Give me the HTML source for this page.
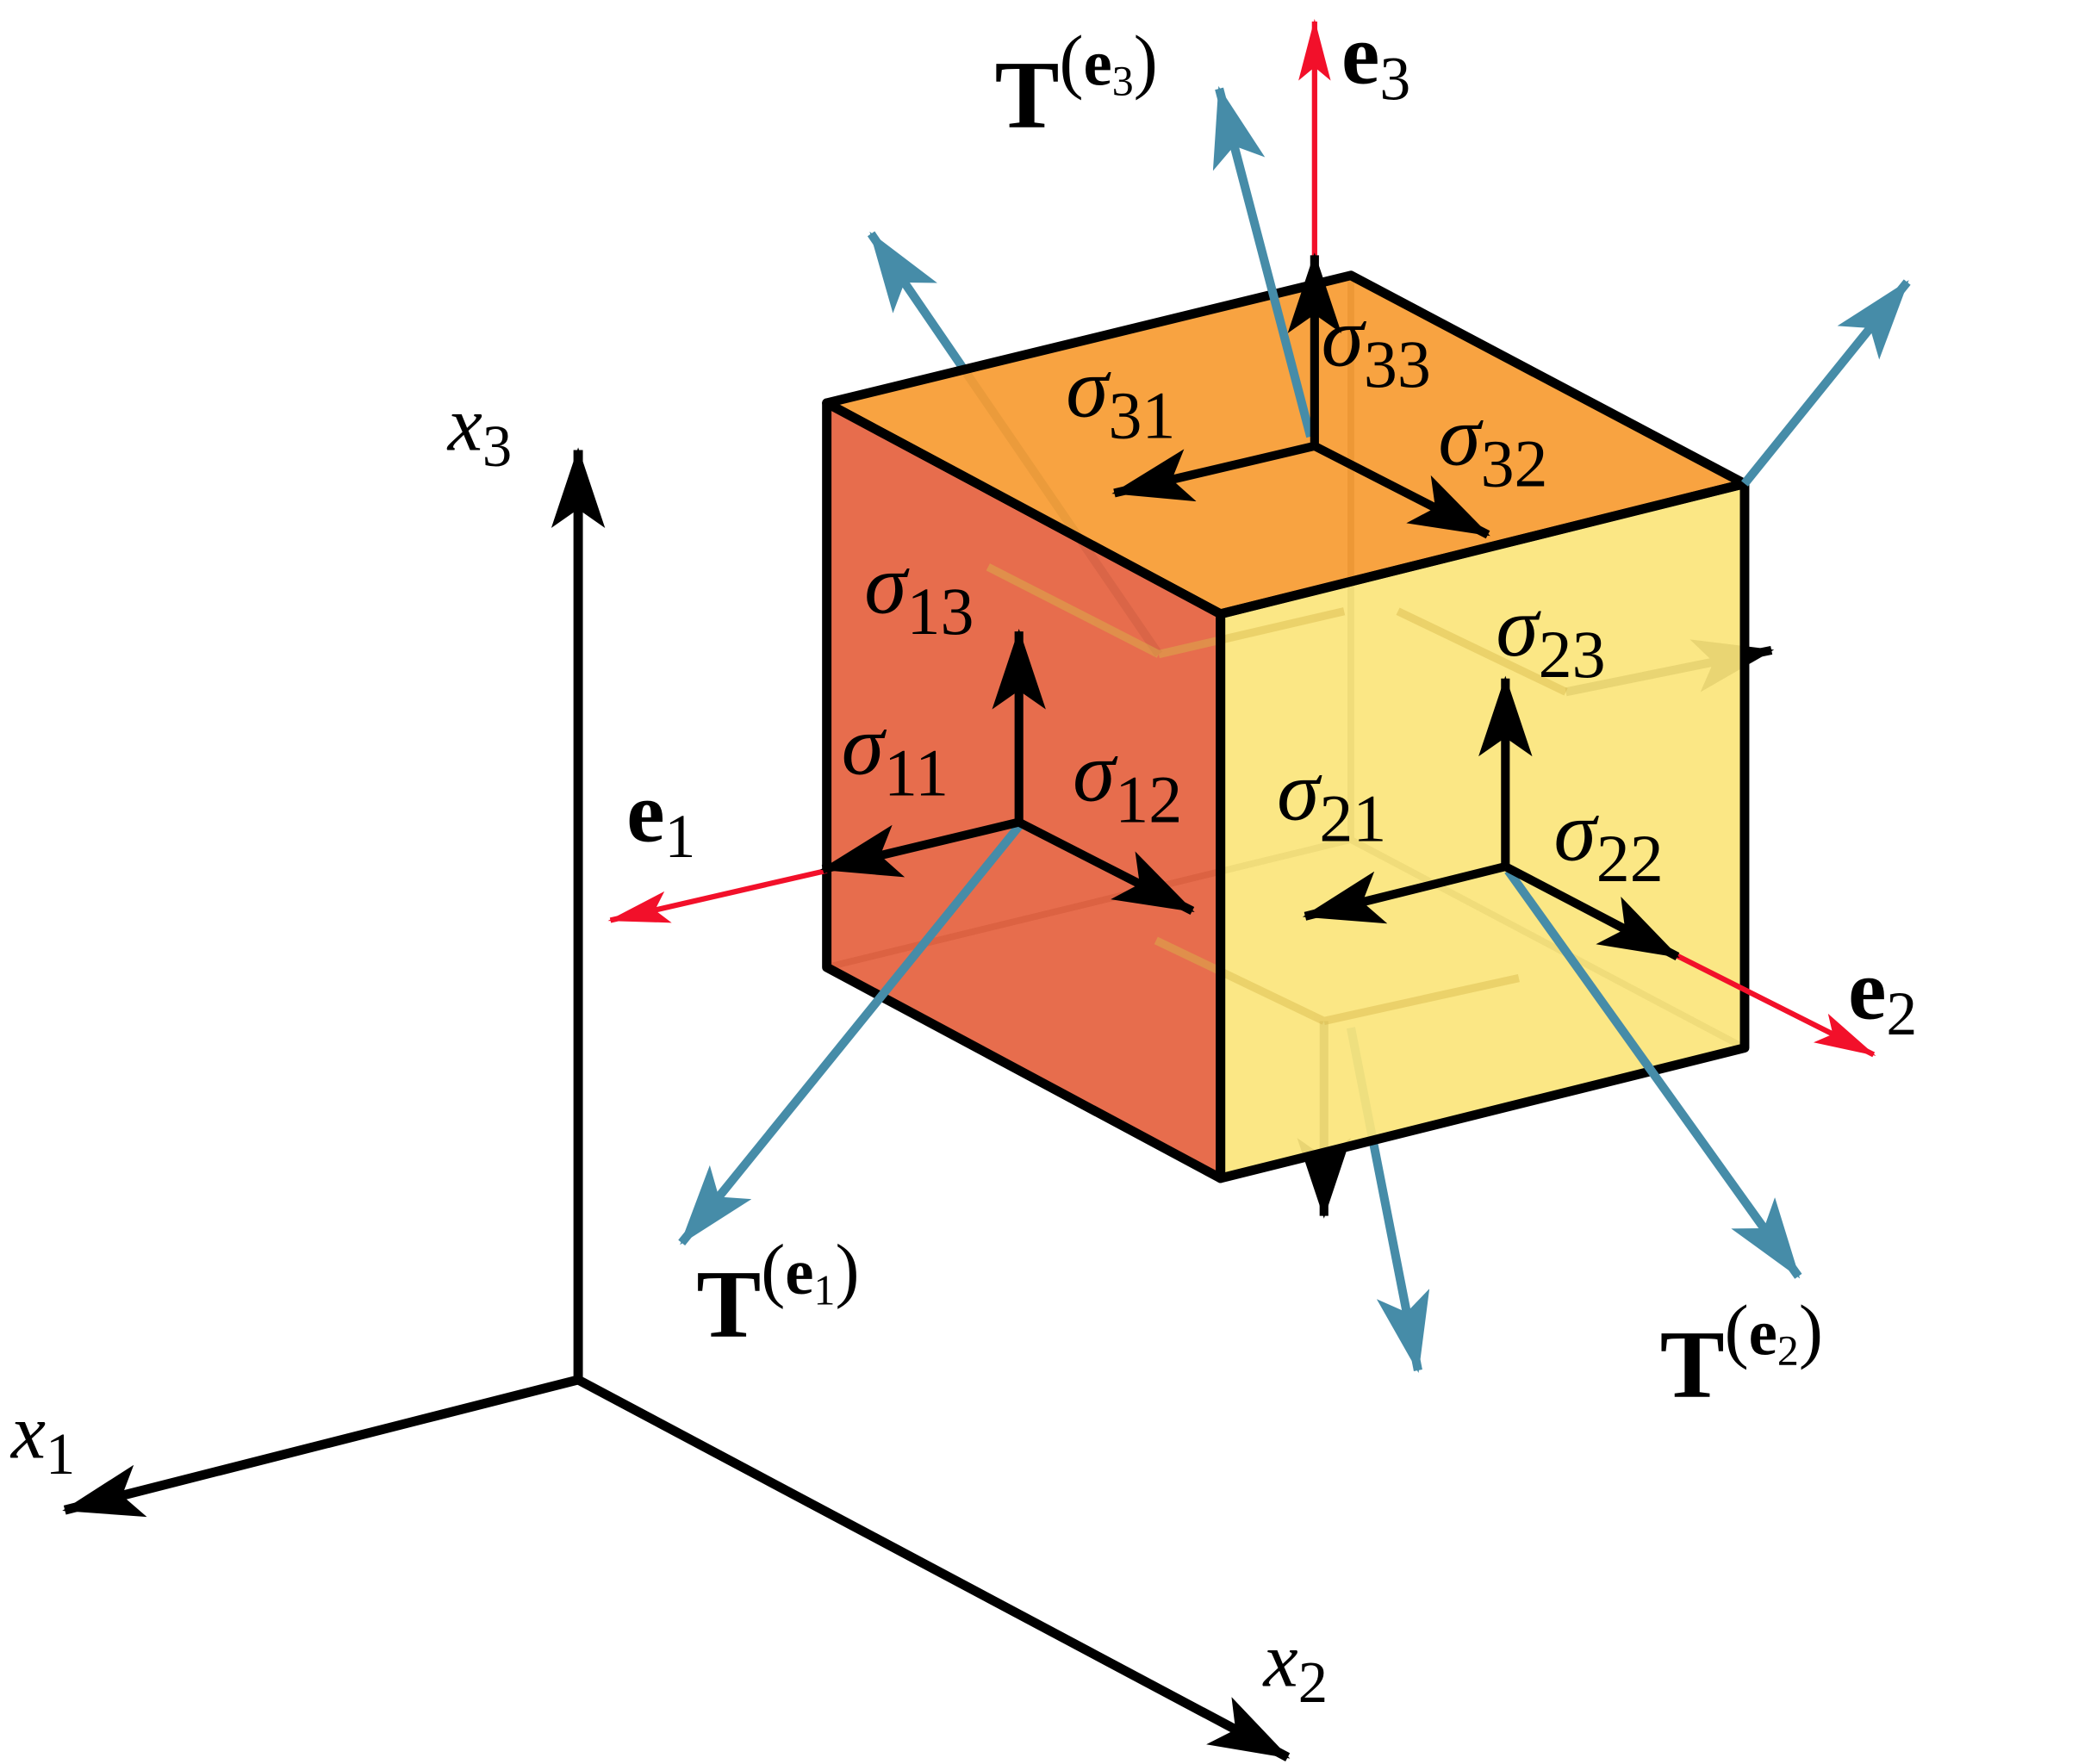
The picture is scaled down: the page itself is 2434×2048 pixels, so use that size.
<!DOCTYPE html>
<html><head><meta charset="utf-8">
<style>
html,body{margin:0;padding:0;background:#fff;}
svg{display:block;}
text{font-family:"Liberation Serif",serif;}
.it{font-style:italic;}
.b{font-weight:bold;}
</style></head>
<body>
<svg width="2434" height="2048" viewBox="0 0 1560 1313" xmlns="http://www.w3.org/2000/svg">
<defs>
<marker id="ak" markerUnits="userSpaceOnUse" markerWidth="70" markerHeight="50" refX="58" refY="20" orient="auto"><path d="M0,0 L60,20 L0,40 L14,20 Z" fill="#000"/></marker>
<marker id="ab" markerUnits="userSpaceOnUse" markerWidth="70" markerHeight="50" refX="58" refY="20" orient="auto"><path d="M0,0 L60,20 L0,40 L14,20 Z" fill="#468ca8"/></marker>
<marker id="ar" markerUnits="userSpaceOnUse" markerWidth="50" markerHeight="30" refX="44" refY="12" orient="auto"><path d="M0,0 L46,12 L0,24 L10,12 Z" fill="#f2102a"/></marker>
</defs>

<g stroke="#000" stroke-width="7" fill="none">
<line x1="430" y1="1027" x2="430" y2="335" marker-end="url(#ak)"/>
<line x1="430" y1="1027" x2="48" y2="1124" marker-end="url(#ak)"/>
<line x1="430" y1="1027" x2="958" y2="1308" marker-end="url(#ak)"/>
</g>

<g stroke="#468ca8" stroke-width="6.5" fill="none">
<line x1="862" y1="487" x2="648" y2="174" marker-end="url(#ab)"/>
<line x1="1005" y1="765" x2="1055" y2="1020" marker-end="url(#ab)"/>
</g>
<g stroke="#000" stroke-width="6.5" fill="none">
<line x1="985" y1="760" x2="985" y2="905" marker-end="url(#ak)"/>
<line x1="1165" y1="515" x2="1318" y2="484" marker-end="url(#ak)"/>
</g>
<g stroke="#000" stroke-width="5" fill="none" opacity="0.6">
<line x1="1005" y1="205" x2="1005" y2="625"/>
<line x1="1005" y1="625" x2="615" y2="720"/>
<line x1="1005" y1="625" x2="1298" y2="780"/>
</g>

<polygon points="615,300 1005,205 1298,360 908,457" fill="#f79c33" fill-opacity="0.93"/>
<polygon points="615,300 908,457 908,877 615,720" fill="#e5623f" fill-opacity="0.93"/>
<polygon points="908,457 1298,360 1298,780 908,877" fill="#fbe57c" fill-opacity="0.93"/>

<g stroke="#d8b84a" stroke-width="6" fill="none" opacity="0.45">
<line x1="985" y1="760" x2="1130" y2="728"/>
<line x1="985" y1="760" x2="860" y2="700"/>
<line x1="1165" y1="515" x2="1040" y2="455"/>
<line x1="862" y1="487" x2="735" y2="422"/>
<line x1="862" y1="487" x2="1000" y2="455"/>
</g>

<g stroke="#000" stroke-width="7" fill="none" stroke-linejoin="round">
<polygon points="615,300 1005,205 1298,360 908,457"/>
<polygon points="615,300 908,457 908,877 615,720"/>
<polygon points="908,457 1298,360 1298,780 908,877"/>
</g>

<g stroke="#f2102a" stroke-width="4" fill="none">
<line x1="978" y1="200" x2="978" y2="16" marker-end="url(#ar)"/>
<line x1="615" y1="648" x2="454" y2="685" marker-end="url(#ar)"/>
<line x1="1245" y1="710" x2="1394" y2="785" marker-end="url(#ar)"/>
</g>

<g stroke="#468ca8" stroke-width="6.5" fill="none">
<line x1="975" y1="325" x2="907" y2="66" marker-end="url(#ab)"/>
<line x1="758" y1="615" x2="507" y2="925" marker-end="url(#ab)"/>
<line x1="1122" y1="648" x2="1338" y2="950" marker-end="url(#ab)"/>
<line x1="1298" y1="360" x2="1419" y2="210" marker-end="url(#ab)"/>
</g>

<g stroke="#000" stroke-width="6.5" fill="none">
<line x1="978" y1="332" x2="978" y2="190" marker-end="url(#ak)"/>
<line x1="978" y1="332" x2="829" y2="367" marker-end="url(#ak)"/>
<line x1="978" y1="332" x2="1107" y2="398" marker-end="url(#ak)"/>
<line x1="758" y1="612" x2="758" y2="470" marker-end="url(#ak)"/>
<line x1="758" y1="612" x2="612" y2="647" marker-end="url(#ak)"/>
<line x1="758" y1="612" x2="887" y2="678" marker-end="url(#ak)"/>
<line x1="1120" y1="645" x2="1120" y2="505" marker-end="url(#ak)"/>
<line x1="1120" y1="645" x2="971" y2="682" marker-end="url(#ak)"/>
<line x1="1120" y1="645" x2="1248" y2="712" marker-end="url(#ak)"/>
</g>

<g fill="#000">
<text x="333" y="335" font-size="58" class="it">x<tspan font-size="44" dy="12" font-style="normal">3</tspan></text>
<text x="8" y="1085" font-size="58" class="it">x<tspan font-size="44" dy="12" font-style="normal">1</tspan></text>
<text x="940" y="1255" font-size="58" class="it">x<tspan font-size="44" dy="12" font-style="normal">2</tspan></text>

<text x="998" y="62" font-size="64" class="b">e<tspan font-size="46" dy="12" font-weight="normal">3</tspan></text>
<text x="466" y="626" font-size="64" class="b">e<tspan font-size="46" dy="12" font-weight="normal">1</tspan></text>
<text x="1375" y="758" font-size="64" class="b">e<tspan font-size="46" dy="12" font-weight="normal">2</tspan></text>

<text x="740" y="95" font-size="72" class="b">T<tspan font-size="54" dy="-32" font-weight="normal">(</tspan><tspan font-size="48">e</tspan><tspan font-size="32" dy="8" font-weight="normal">3</tspan><tspan font-size="54" dy="-8" font-weight="normal">)</tspan></text>
<text x="518" y="995" font-size="72" class="b">T<tspan font-size="54" dy="-32" font-weight="normal">(</tspan><tspan font-size="48">e</tspan><tspan font-size="32" dy="8" font-weight="normal">1</tspan><tspan font-size="54" dy="-8" font-weight="normal">)</tspan></text>
<text x="1235" y="1040" font-size="72" class="b">T<tspan font-size="54" dy="-32" font-weight="normal">(</tspan><tspan font-size="48">e</tspan><tspan font-size="32" dy="8" font-weight="normal">2</tspan><tspan font-size="54" dy="-8" font-weight="normal">)</tspan></text>

<g font-size="64" class="it">
<text x="983" y="272">σ<tspan font-size="50" dy="16" font-style="normal">33</tspan></text>
<text x="793" y="310">σ<tspan font-size="50" dy="16" font-style="normal">31</tspan></text>
<text x="1070" y="346">σ<tspan font-size="50" dy="16" font-style="normal">32</tspan></text>
<text x="643" y="456">σ<tspan font-size="50" dy="16" font-style="normal">13</tspan></text>
<text x="626" y="576">σ<tspan font-size="50" dy="16" font-style="normal">11</tspan></text>
<text x="798" y="596">σ<tspan font-size="50" dy="16" font-style="normal">12</tspan></text>
<text x="1113" y="488">σ<tspan font-size="50" dy="16" font-style="normal">23</tspan></text>
<text x="950" y="610">σ<tspan font-size="50" dy="16" font-style="normal">21</tspan></text>
<text x="1156" y="640">σ<tspan font-size="50" dy="16" font-style="normal">22</tspan></text>
</g>
</g>
</svg>
</body></html>
